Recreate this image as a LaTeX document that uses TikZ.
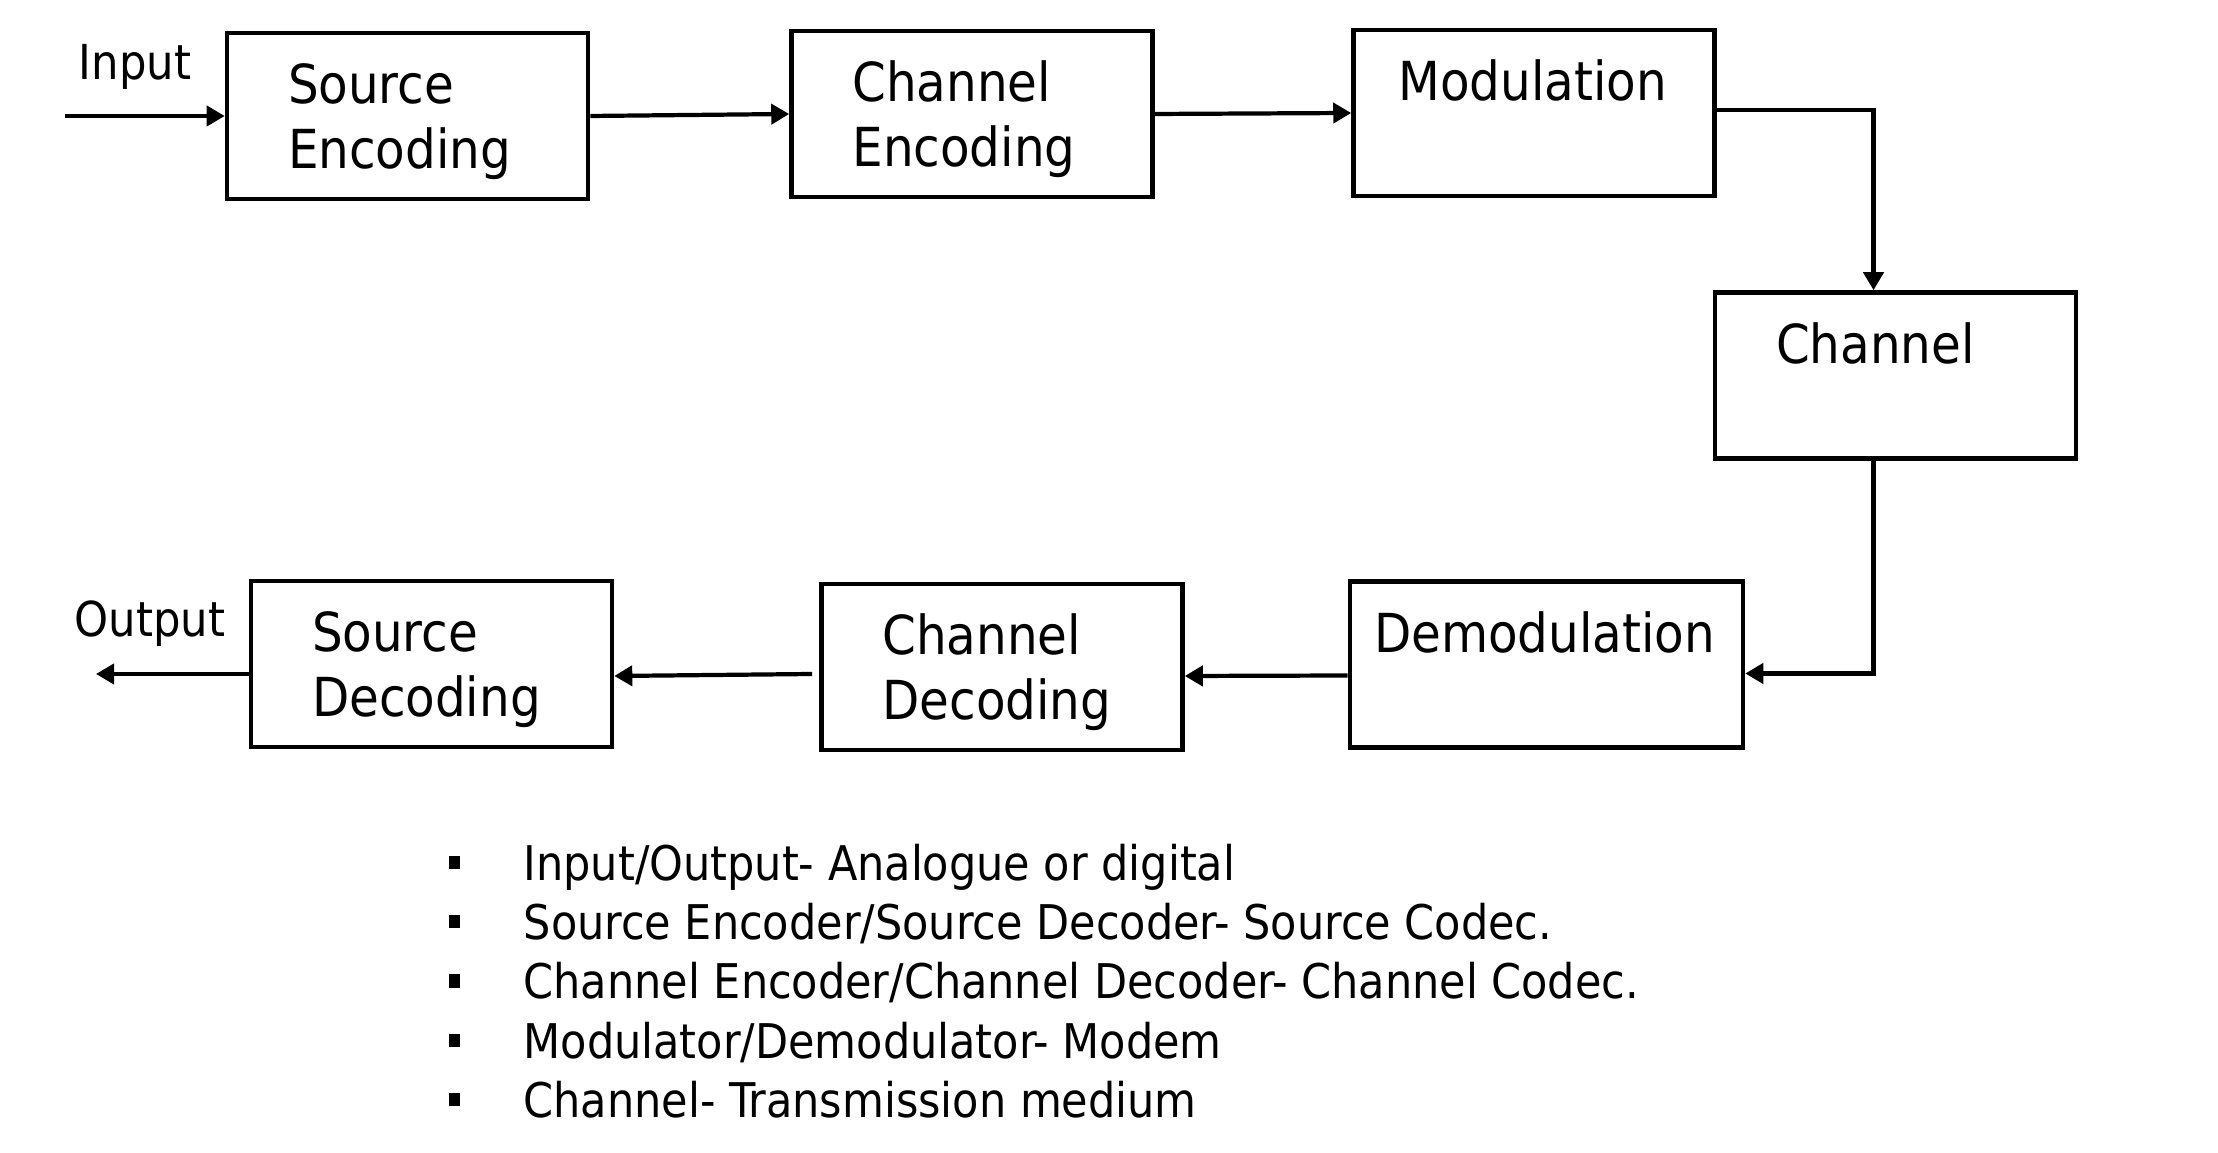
\documentclass[tikz,border=0pt]{standalone}
\usepackage{fontspec}
\setmainfont{DejaVu Sans Condensed}
\usetikzlibrary{arrows.meta}

\tikzset{
    blockbox/.style={draw, line width=1.3pt, minimum height=1.66cm, inner xsep=0.61cm, text width=2.39cm, align=left,
        font=\fontsize{15.3}{18.5}\selectfont, execute at begin node={\hyphenpenalty=10000\rule{0pt}{0.52cm}}},
    conn/.style={line width=1.2pt, -{Triangle[length=0.18cm, width=0.2cm]}},
    lbl/.style={font=\fontsize{13.7}{16}\selectfont, inner sep=0pt},
    bulletsq/.style={fill, minimum width=0.11cm, minimum height=0.13cm, inner sep=0pt},
}

\begin{document}
\begin{tikzpicture}
    \useasboundingbox (0, 0) rectangle (22.18, 11.52);

    % top row
    \node[blockbox] (srcenc) at (4.075, 10.36) {Source\\Encoding};
    \node[blockbox] (chenc) at (9.72, 10.38) {Channel\\Encoding};
    \node[blockbox, inner xsep=0.45cm, text width=2.71cm] (mod) at (15.34, 10.39) {Modulation\\\phantom{Encoding}};

    \node[blockbox] (chan) at (18.955, 7.765) {Channel\\\phantom{Encoding}};

    % bottom row
    \node[blockbox, inner xsep=0.24cm, text width=3.45cm] (demod) at (15.465, 4.875) {Demodulation\\\phantom{Encoding}};
    \node[blockbox] (chdec) at (10.02, 4.85) {Channel\\Decoding};
    \node[blockbox] (srcdec) at (4.315, 4.88) {Source\\Decoding};

    \coordinate (inpt) at (0.65, 10.36);
    \coordinate (outp) at (0.96, 4.78);
    \node[lbl, anchor=base] (inlbl) at (1.35, 10.72) {Input};
    \node[lbl, anchor=base] (outlbl) at (1.50, 5.15) {Output};

    \draw[conn] (inpt) -- (srcenc.west);
    \draw[conn] (srcenc.east) -- (chenc.west);
    \draw[conn] (chenc.east) -- (mod.west);
    \draw[conn] ([yshift=0.03cm]mod.east) -| ([xshift=-0.22cm]chan.north);
    \draw[conn] ([xshift=-0.22cm]chan.south) |- ([yshift=-0.09cm]demod.east);
    \draw[conn] ([yshift=-0.11cm]demod.west) -- ([yshift=-0.09cm]chdec.east);
    \draw[conn] ([xshift=-0.07cm, yshift=-0.07cm]chdec.west) -- ([yshift=-0.12cm]srcdec.east);
    \draw[conn] ([yshift=-0.1cm]srcdec.west) -- (outp);

    % notes
    \foreach \txt [count=\i] in {{Input/Output- Analogue or digital},
            {Source Encoder/Source Decoder- Source Codec.},
            {Channel Encoder/Channel Decoder- Channel Codec.},
            {Modulator/Demodulator- Modem},
            {Channel- Transmission medium}} {
        \pgfmathsetmacro\yb{2.71 - 0.59*(\i - 1)}
        \node[bulletsq] (bul\i) at (4.54, \yb + 0.18) {};
        \node[anchor=base west, inner sep=0pt, font=\fontsize{13.6}{16}\selectfont] (item\i) at (5.23, \yb) {\txt};
    }
\end{tikzpicture}
\end{document}
